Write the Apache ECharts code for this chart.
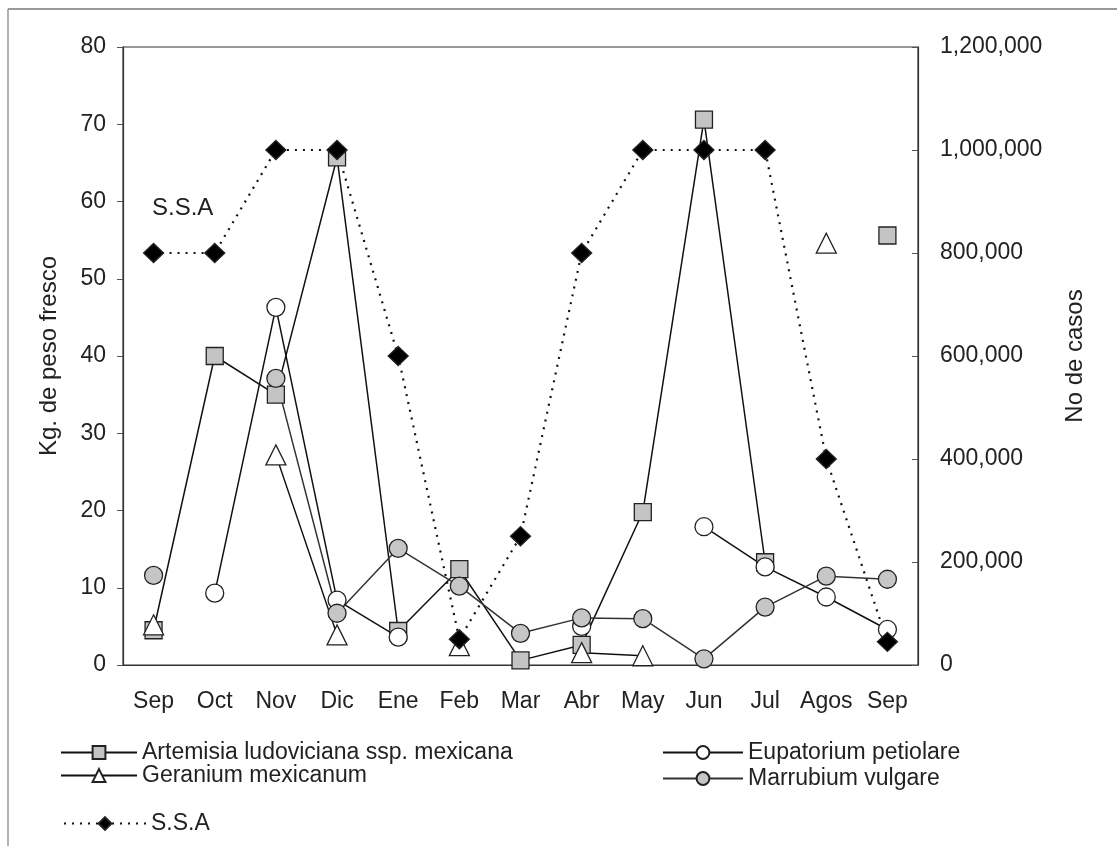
<!DOCTYPE html>
<html>
<head>
<meta charset="utf-8">
<script src="https://cdn.jsdelivr.net/npm/echarts@6/dist/echarts.min.js"></script>
<style>
html,body{margin:0;padding:0;background:#fff;}
#chart{width:1117px;height:846px;}
</style>
</head>
<body>
<div id="chart"></div>
<script>
const months = ['Sep','Oct','Nov','Dic','Ene','Feb','Mar','Abr','May','Jun','Jul','Agos','Sep'];
const artemisia = [4.5, 40, 35, 65.7, 4.4, 12.4, 0.6, 2.6, 19.8, 70.6, 13.3, null, 55.6];
const geranium = [5.2, null, 27.2, 3.9, null, 2.5, null, 1.6, 1.2, null, null, 54.6, null];
const eupatorium = [null, 9.3, 46.3, 8.4, 3.6, null, null, 5.0, null, 17.9, 12.7, 8.8, 4.6];
const marrubium = [11.6, null, 37.1, 6.7, 15.1, 10.2, 4.1, 6.1, 6.0, 0.8, 7.5, 11.5, 11.1];
const ssa = [800000, 800000, 1000000, 1000000, 600000, 50000, 250000, 800000, 1000000, 1000000, 1000000, 400000, 45000];
const leftTicks = [0, 80, 10];
const rightTicks = [0, 1200000, 200000];

const FONT = 'Liberation Sans';
const TXT = '#222';
const chart = echarts.init(document.getElementById('chart'));

function lineSeries(name, data, symbol, size, fill, lineColor, yIdx, dotted) {
  return {
    name: name, type: 'line', data: data, yAxisIndex: yIdx,
    symbol: symbol, symbolSize: size, showSymbol: true, connectNulls: false,
    itemStyle: { color: fill, borderColor: '#222', borderWidth: 1.3 },
    lineStyle: { color: lineColor, width: dotted ? 2.2 : 1.5, type: dotted ? [2, 6] : 'solid' },
    emphasis: { disabled: true }, animation: false
  };
}

const option = {
  animation: false,
  textStyle: { fontFamily: FONT },
  grid: { left: 123, right: 199, top: 47, bottom: 181, show: true, borderColor: '#333', borderWidth: 1.2 },
  xAxis: {
    type: 'category', data: months, boundaryGap: true,
    axisLine: { lineStyle: { color: '#333', width: 1.2 } },
    axisTick: { inside: true, length: 7, interval: 0, lineStyle: { color: '#555' } },
    axisLabel: { interval: 0, margin: 25, fontSize: 23, color: TXT, fontFamily: FONT }
  },
  yAxis: [
    {
      type: 'value', min: leftTicks[0], max: leftTicks[1], interval: leftTicks[2], position: 'left',
      name: 'Kg. de peso fresco', nameLocation: 'middle', nameGap: 62,
      nameTextStyle: { fontSize: 24, color: TXT, fontFamily: FONT },
      axisLine: { show: true, lineStyle: { color: '#333', width: 1.2 } },
      axisTick: { show: true, inside: false, length: 6, lineStyle: { color: '#555' } },
      axisLabel: { margin: 17, fontSize: 23, color: TXT, fontFamily: FONT },
      splitLine: { show: false }
    },
    {
      type: 'value', min: rightTicks[0], max: rightTicks[1], interval: rightTicks[2], position: 'right',
      name: 'No de casos', nameLocation: 'middle', nameGap: 145, nameRotate: 90,
      nameTextStyle: { fontSize: 24, color: TXT, fontFamily: FONT },
      axisLine: { show: true, lineStyle: { color: '#333', width: 1.2 } },
      axisTick: { show: true, inside: true, length: 6, lineStyle: { color: '#555' } },
      axisLabel: { margin: 22, fontSize: 23, color: TXT, fontFamily: FONT,
        formatter: v => v.toLocaleString('en-US') },
      splitLine: { show: false }
    }
  ],
  legend: [
    {
      left: 55, top: 736, orient: 'vertical', itemWidth: 76, itemHeight: 16, itemGap: 0,
      textStyle: { fontSize: 23, color: TXT, fontFamily: FONT, lineHeight: 23 },
      data: ['Artemisia ludoviciana ssp. mexicana', 'Geranium mexicanum'], selectedMode: false
    },
    {
      left: 657, top: 736, orient: 'vertical', itemWidth: 80, itemHeight: 16, itemGap: 3,
      textStyle: { fontSize: 23, color: TXT, fontFamily: FONT, lineHeight: 23 },
      data: ['Eupatorium petiolare', 'Marrubium vulgare'], selectedMode: false
    },
    {
      left: 58, top: 807, orient: 'vertical', itemWidth: 82, itemHeight: 16,
      textStyle: { fontSize: 23, color: TXT, fontFamily: FONT, lineHeight: 23 },
      data: ['S.S.A'], selectedMode: false
    }
  ],
  graphic: [
    { type: 'text', left: 152, top: 196, style: { text: 'S.S.A', font: '24px "Liberation Sans"', fill: TXT } },
    { type: 'line', shape: { x1: 8, y1: 9, x2: 1117, y2: 9 }, style: { stroke: '#777', lineWidth: 1.5 } },
    { type: 'line', shape: { x1: 8, y1: 9, x2: 8, y2: 846 }, style: { stroke: '#999', lineWidth: 1.5 } }
  ],
  series: [
    lineSeries('Artemisia ludoviciana ssp. mexicana', artemisia, 'rect', 17, '#c4c4c4', '#111', 0, false),
    lineSeries('Geranium mexicanum', geranium, 'triangle', 20, '#ffffff', '#111', 0, false),
    lineSeries('Eupatorium petiolare', eupatorium, 'circle', 18, '#ffffff', '#111', 0, false),
    lineSeries('Marrubium vulgare', marrubium, 'circle', 18, '#c6c6c6', '#333', 0, false),
    lineSeries('S.S.A', ssa, 'diamond', [20, 19], '#000000', '#111', 1, true)
  ]
};
chart.setOption(option);
</script>
</body>
</html>
